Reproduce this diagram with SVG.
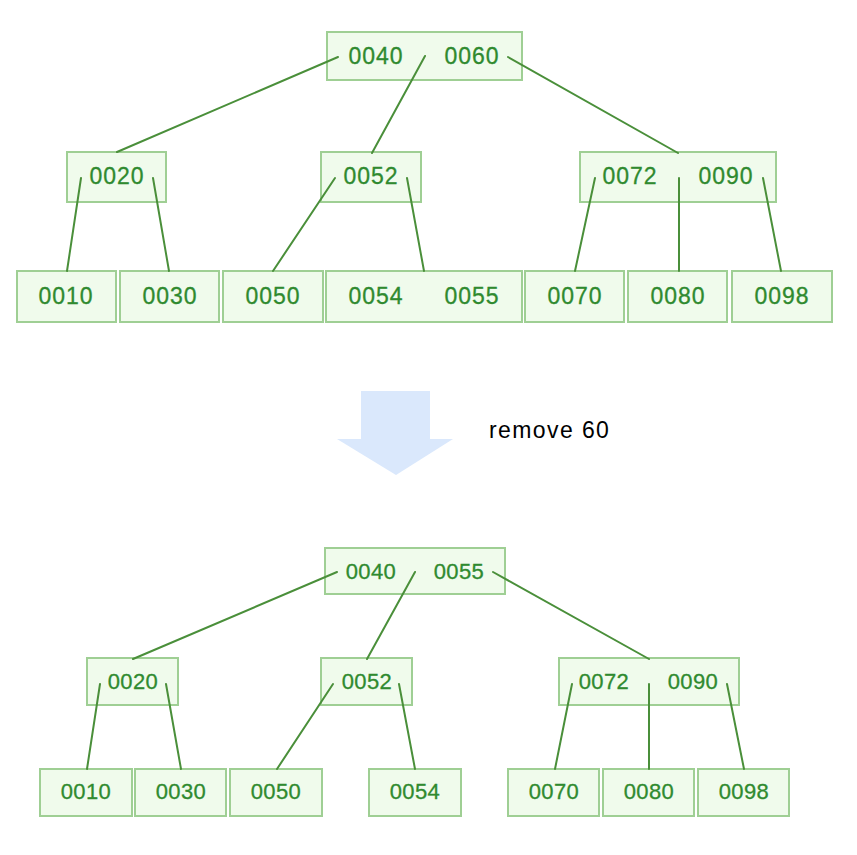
<svg xmlns="http://www.w3.org/2000/svg" width="857" height="855" viewBox="0 0 857 855">
<style>
.box{fill:#f0fbec;stroke:#9fcf94;stroke-width:2}
.t{font-family:"Liberation Sans",Arial,sans-serif;font-size:23px;letter-spacing:0.9px;fill:#2f8a2f;text-anchor:middle;dominant-baseline:central;stroke:#2f8a2f;stroke-width:0.3}
.b .t{font-size:22px;letter-spacing:0.4px}
.ln{stroke:#4a8f3a;stroke-width:2;fill:none;stroke-linecap:round}
</style>
<rect width="857" height="855" fill="#ffffff"/>
<g id="top-root"><rect class="box" x="327" y="32" width="195" height="48"/><text class="t" x="376" y="56">0040</text><text class="t" x="472" y="56">0060</text></g>
<g id="top-0020"><rect class="box" x="67" y="152" width="99" height="50"/><text class="t" x="117" y="176">0020</text></g>
<g id="top-0052"><rect class="box" x="321" y="152" width="100" height="50"/><text class="t" x="371" y="176">0052</text></g>
<g id="top-0072"><rect class="box" x="580" y="152" width="196" height="50"/><text class="t" x="630" y="176">0072</text><text class="t" x="726" y="176">0090</text></g>
<g id="top-0010"><rect class="box" x="17" y="271" width="99" height="51"/><text class="t" x="66" y="296">0010</text></g>
<g id="top-0030"><rect class="box" x="120" y="271" width="99" height="51"/><text class="t" x="170" y="296">0030</text></g>
<g id="top-0050"><rect class="box" x="223" y="271" width="100" height="51"/><text class="t" x="273" y="296">0050</text></g>
<g id="top-0054"><rect class="box" x="326" y="271" width="196" height="51"/><text class="t" x="376" y="296">0054</text><text class="t" x="472" y="296">0055</text></g>
<g id="top-0070"><rect class="box" x="525" y="271" width="99" height="51"/><text class="t" x="575" y="296">0070</text></g>
<g id="top-0080"><rect class="box" x="628" y="271" width="99" height="51"/><text class="t" x="678" y="296">0080</text></g>
<g id="top-0098"><rect class="box" x="732" y="271" width="100" height="51"/><text class="t" x="782" y="296">0098</text></g>
<g id="arrow"><path d="M361 391H430V439H453L396 475L337 439H361Z" fill="#dae8fc"/><text x="489" y="438" font-family="'Liberation Sans',Arial,sans-serif" font-size="23" letter-spacing="1.4" fill="#000">remove 60</text></g>
<g class="b">
<g id="bot-root"><rect class="box" x="325" y="548" width="180" height="46"/><text class="t" x="371" y="571">0040</text><text class="t" x="459" y="571">0055</text></g>
<g id="bot-0020"><rect class="box" x="87" y="658" width="91" height="47"/><text class="t" x="133" y="681">0020</text></g>
<g id="bot-0052"><rect class="box" x="321" y="658" width="91" height="47"/><text class="t" x="367" y="681">0052</text></g>
<g id="bot-0072"><rect class="box" x="559" y="658" width="180" height="47"/><text class="t" x="604" y="681">0072</text><text class="t" x="693" y="681">0090</text></g>
<g id="bot-0010"><rect class="box" x="40" y="769" width="92" height="47"/><text class="t" x="86" y="791">0010</text></g>
<g id="bot-0030"><rect class="box" x="135" y="769" width="91" height="47"/><text class="t" x="181" y="791">0030</text></g>
<g id="bot-0050"><rect class="box" x="230" y="769" width="92" height="47"/><text class="t" x="276" y="791">0050</text></g>
<g id="bot-0054"><rect class="box" x="369" y="769" width="92" height="47"/><text class="t" x="415" y="791">0054</text></g>
<g id="bot-0070"><rect class="box" x="508" y="769" width="91" height="47"/><text class="t" x="554" y="791">0070</text></g>
<g id="bot-0080"><rect class="box" x="603" y="769" width="91" height="47"/><text class="t" x="649" y="791">0080</text></g>
<g id="bot-0098"><rect class="box" x="698" y="769" width="91" height="47"/><text class="t" x="744" y="791">0098</text></g>
</g>
<g id="connectors">
<path class="ln" d="M338 57L117 152M425 56L372 153M508 57L678 153M81 178L67 271M153 178L169 271M335 178L273 271M407 178L424 271M595 178L575 271M679 178L679 271M763 178L781 271"/>
<path class="ln" d="M337 572L133 659M415 572L367 659M493 572L649 659M100 684L87 769M166 684L181 769M333 684L277 769M399 684L415 769M572 684L555 769M649 684L649 769M727 684L744 769"/>
</g>
</svg>
